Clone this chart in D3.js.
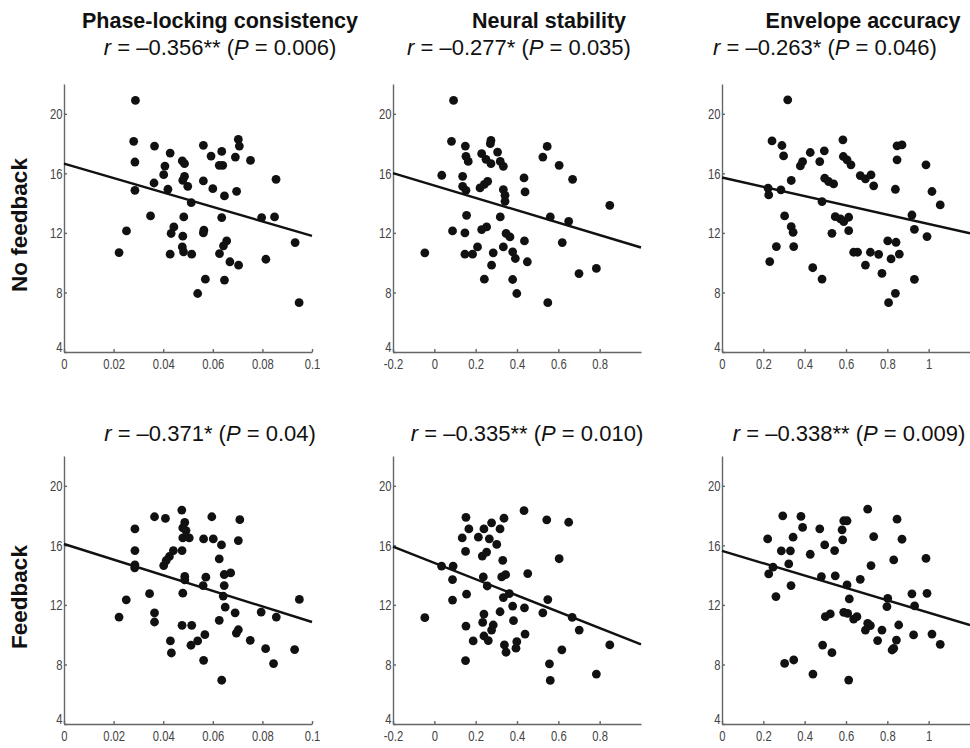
<!DOCTYPE html>
<html>
<head>
<meta charset="utf-8">
<script src="https://cdn.jsdelivr.net/npm/d3@7"></script>
<style>
  body { margin: 0; background: #fff; }
  svg { display: block; }
</style>
</head>
<body>
<svg id="chart" width="970" height="748"></svg>
<script>
// ---- data: [x, y] per subject ----
const phaseNoFb = [[0.0288,20.9],[0.0281,18.15],[0.0286,16.76],[0.0286,14.86],[0.0222,10.68],[0.0252,12.13],[0.0349,13.14],[0.0365,17.83],[0.0363,15.35],[0.0428,17.36],[0.0407,16.49],[0.0402,15.91],[0.0419,14.93],[0.0477,16.83],[0.0486,16.65],[0.0486,15.8],[0.0479,15.53],[0.0499,15.13],[0.0513,14.03],[0.0443,12.4],[0.0432,11.96],[0.0479,11.78],[0.0483,13.07],[0.0477,11.06],[0.0482,10.73],[0.0515,10.57],[0.0428,10.57],[0.0562,17.88],[0.0593,17.16],[0.0636,17.47],[0.0640,16.54],[0.0626,16.54],[0.0562,15.49],[0.0600,14.97],[0.0647,14.48],[0.0636,13.03],[0.0564,12.18],[0.0562,12.0],[0.0656,11.46],[0.0643,11.13],[0.0627,10.61],[0.0669,10.06],[0.0704,9.83],[0.0570,8.89],[0.0647,8.83],[0.0539,7.93],[0.0703,18.28],[0.0707,17.83],[0.0691,17.09],[0.0752,16.87],[0.0696,14.79],[0.0855,15.6],[0.0797,13.03],[0.0849,13.07],[0.0814,10.23],[0.0932,11.35],[0.0948,7.31]];

const neuralNoFb = [[0.093,20.9],[-0.046,10.66],[0.036,15.87],[0.083,18.15],[0.088,12.13],[0.150,17.83],[0.153,17.14],[0.164,16.8],[0.137,15.8],[0.137,15.13],[0.153,14.86],[0.156,13.18],[0.148,12.0],[0.148,10.57],[0.185,10.57],[0.209,11.06],[0.229,12.22],[0.253,12.4],[0.229,17.32],[0.250,16.94],[0.274,18.21],[0.271,17.99],[0.274,16.65],[0.306,17.43],[0.319,16.8],[0.334,16.47],[0.221,15.02],[0.242,15.26],[0.258,15.46],[0.334,14.9],[0.342,14.52],[0.342,14.12],[0.319,13.07],[0.334,11.06],[0.347,11.96],[0.366,11.73],[0.285,10.66],[0.277,9.83],[0.242,8.89],[0.379,10.73],[0.392,10.28],[0.379,8.87],[0.399,7.93],[0.434,15.69],[0.439,14.75],[0.436,11.46],[0.450,10.06],[0.525,17.09],[0.546,17.81],[0.561,13.07],[0.604,16.54],[0.669,15.6],[0.650,12.78],[0.619,11.35],[0.549,7.31],[0.700,9.27],[0.784,9.61],[0.849,13.85]];

const envNoFb = [[0.318,20.94],[0.242,18.18],[0.290,17.87],[0.298,17.17],[0.223,15.0],[0.226,14.55],[0.285,14.89],[0.335,15.52],[0.303,13.14],[0.335,12.42],[0.344,12.04],[0.263,11.08],[0.231,10.07],[0.347,11.08],[0.379,16.5],[0.390,16.79],[0.427,17.4],[0.473,16.79],[0.495,17.51],[0.484,14.1],[0.497,15.67],[0.516,15.45],[0.540,15.29],[0.532,11.97],[0.439,9.66],[0.484,8.9],[0.585,18.25],[0.587,17.13],[0.605,16.91],[0.624,16.57],[0.548,13.09],[0.573,12.94],[0.589,12.76],[0.613,13.05],[0.613,12.15],[0.637,10.7],[0.656,10.7],[0.669,15.85],[0.694,15.63],[0.721,15.9],[0.734,15.16],[0.694,9.84],[0.718,10.7],[0.758,10.56],[0.774,9.28],[0.802,11.46],[0.842,11.37],[0.818,10.25],[0.858,10.58],[0.839,7.94],[0.806,7.31],[0.847,17.85],[0.871,17.91],[0.847,16.91],[0.839,14.93],[0.919,13.2],[0.931,12.24],[0.931,8.88],[0.987,16.57],[1.016,14.78],[0.992,11.75],[1.056,13.88]];

const phaseFb = [[0.0222,11.18],[0.0251,12.34],[0.0286,17.1],[0.0286,15.65],[0.0286,14.69],[0.0285,14.49],[0.0345,12.75],[0.0365,17.92],[0.0409,17.81],[0.0365,11.47],[0.0365,10.85],[0.0429,9.58],[0.0433,8.77],[0.0402,14.64],[0.0412,14.98],[0.0425,15.25],[0.0441,15.65],[0.0476,15.65],[0.0475,18.37],[0.0479,17.17],[0.0487,17.54],[0.0492,16.99],[0.0479,16.5],[0.0505,16.5],[0.0487,13.91],[0.0487,13.68],[0.0479,12.79],[0.0476,10.63],[0.0515,10.63],[0.0512,9.29],[0.0539,9.58],[0.0568,10.0],[0.0563,8.28],[0.0563,16.43],[0.0596,17.92],[0.0602,16.43],[0.0572,13.86],[0.0561,13.3],[0.0635,16.03],[0.0626,15.09],[0.0646,13.3],[0.0646,14.04],[0.0672,14.15],[0.0642,12.59],[0.0650,11.85],[0.0626,10.96],[0.0636,6.94],[0.0709,17.72],[0.0703,16.32],[0.0690,11.47],[0.0703,10.33],[0.0695,10.11],[0.0751,9.62],[0.0795,11.52],[0.0813,9.06],[0.0856,11.18],[0.0845,8.06],[0.0930,9.0],[0.0949,12.37]];

const neuralFb = [[-0.046,11.14],[0.035,14.61],[0.091,14.61],[0.088,12.32],[0.088,13.7],[0.153,17.88],[0.167,17.1],[0.135,16.5],[0.151,15.59],[0.156,12.72],[0.153,10.58],[0.151,8.26],[0.188,9.58],[0.213,16.55],[0.240,17.1],[0.277,17.51],[0.318,17.1],[0.337,17.82],[0.266,16.44],[0.302,16.06],[0.253,15.55],[0.232,15.28],[0.237,13.88],[0.256,13.27],[0.331,14.99],[0.326,13.88],[0.345,14.03],[0.363,12.76],[0.334,12.49],[0.240,11.38],[0.234,10.82],[0.285,10.65],[0.277,10.31],[0.240,9.91],[0.261,9.6],[0.318,11.54],[0.379,11.92],[0.383,10.94],[0.339,9.31],[0.347,8.82],[0.399,9.53],[0.395,9.09],[0.439,10.04],[0.436,11.8],[0.434,18.33],[0.452,14.1],[0.525,11.47],[0.549,12.36],[0.544,17.71],[0.650,17.55],[0.604,15.1],[0.557,8.04],[0.561,6.93],[0.617,8.98],[0.667,11.16],[0.701,10.31],[0.784,7.35],[0.849,9.31]];

const envFb = [[0.221,16.43],[0.226,14.08],[0.247,14.53],[0.261,12.56],[0.294,17.98],[0.287,15.63],[0.331,15.63],[0.323,14.75],[0.334,13.3],[0.344,16.55],[0.303,8.07],[0.347,8.30],[0.382,17.94],[0.390,17.2],[0.427,15.4],[0.440,7.35],[0.473,17.11],[0.497,16.03],[0.481,13.9],[0.500,11.21],[0.524,11.39],[0.487,9.3],[0.532,8.79],[0.545,15.65],[0.548,13.95],[0.589,17.65],[0.605,17.65],[0.581,17.04],[0.584,16.37],[0.605,13.34],[0.616,12.4],[0.589,11.5],[0.608,11.43],[0.637,11.05],[0.653,11.21],[0.669,13.72],[0.613,6.95],[0.705,18.43],[0.734,16.59],[0.721,14.64],[0.705,10.76],[0.718,10.61],[0.694,10.31],[0.774,10.31],[0.753,9.6],[0.802,12.44],[0.798,11.88],[0.831,15.02],[0.847,17.76],[0.871,16.41],[0.855,10.65],[0.844,9.64],[0.831,9.08],[0.823,8.97],[0.919,12.74],[0.932,11.93],[0.927,9.98],[0.987,15.13],[0.992,12.78],[1.016,10.04],[1.056,9.35]];

// regression line end points [x, y]
const fitPhaseNoFb  = [[0, 16.65], [0.1, 11.8]];
const fitNeuralNoFb = [[-0.2, 16.02], [1.0, 11.02]];
const fitEnvNoFb    = [[0, 15.72], [1.2, 11.97]];
const fitPhaseFb    = [[0, 16.09], [0.1, 10.85]];
const fitNeuralFb   = [[-0.2, 15.92], [1.0, 9.35]];
const fitEnvFb      = [[0, 15.63], [1.2, 10.65]];

// column titles, row labels, stats
const colTitles = ['Phase-locking consistency', 'Neural stability', 'Envelope accuracy'];
const rowLabels = ['No feedback', 'Feedback'];
const rValues = [['–0.356**', '–0.277*', '–0.263*'], ['–0.371*', '–0.335**', '–0.338**']];
const pValues = [['0.006', '0.035', '0.046'], ['0.04', '0.010', '0.009']];

// tick labels
const yTickLabels = ['4', '8', '12', '16', '20'];
const xTicksPhase = ['0', '0.02', '0.04', '0.06', '0.08', '0.1'];
const xTicksNeural = ['-0.2', '0', '0.2', '0.4', '0.6', '0.8'];
const xTicksEnv = ['0', '0.2', '0.4', '0.6', '0.8', '1'];

class ScatterPanel {

  constructor(_config, _data, _fit) {
    this.config = {
      parent: _config.parent,
      left: _config.left,
      top: _config.top,
      width: 248,
      height: 268,
      xDomain: _config.xDomain,
      xTicks: _config.xTicks
    };
    this.data = _data;
    this.fit = _fit;
    this.initVis();
  }

  initVis() {
    let vis = this;

    vis.g = vis.config.parent.append('g')
      .attr('transform', `translate(${vis.config.left},${vis.config.top})`);

    vis.x = d3.scaleLinear().domain(vis.config.xDomain).range([0, vis.config.width]);
    vis.y = d3.scaleLinear().domain([4, 22]).range([vis.config.height, 0]);

    // MATLAB-ish axes, ticks pointing inward
    vis.xAxis = d3.axisBottom(vis.x)
      .tickValues(vis.config.xTicks.map(Number))
      .tickFormat((d, i) => vis.config.xTicks[i])
      .tickSizeInner(-3).tickSizeOuter(0).tickPadding(6);

    vis.yAxis = d3.axisLeft(vis.y)
      .tickValues(yTickLabels.map(Number))
      .tickFormat((d, i) => yTickLabels[i])
      .tickSizeInner(-3).tickSizeOuter(0).tickPadding(2);

    vis.g.append('g')
      .attr('class', 'axis')
      .attr('transform', `translate(0,${vis.config.height})`)
      .call(vis.xAxis);
    vis.yG = vis.g.append('g')
      .attr('class', 'axis')
      .call(vis.yAxis);

    vis.g.selectAll('.axis')
      .attr('font-family', '"Liberation Sans", Arial, sans-serif')
      .attr('font-size', 15);
    vis.g.selectAll('.axis path, .axis line')
      .attr('stroke', '#666').attr('stroke-width', 1.4);
    // narrow look of the original tick labels
    vis.g.selectAll('.axis text')
      .attr('fill', '#444')
      .attr('transform', 'scale(0.75,1)');
    // the bottom "4" sits just above the x axis
    vis.yG.selectAll('.tick text')
      .filter(d => d === 4)
      .attr('dy', '-0.05em');

    vis.g.selectAll('circle')
      .data(vis.data)
      .join('circle')
        .attr('cx', d => vis.x(d[0]))
        .attr('cy', d => vis.y(d[1]))
        .attr('r', 4.4)
        .attr('fill', '#111');

    vis.g.append('line')
      .attr('x1', vis.x(vis.fit[0][0])).attr('y1', vis.y(vis.fit[0][1]))
      .attr('x2', vis.x(vis.fit[1][0])).attr('y2', vis.y(vis.fit[1][1]))
      .attr('stroke', '#111')
      .attr('stroke-width', 2.4);
  }
}

const svg = d3.select('#chart');

const colLeft = [64, 393, 722];
const rowTop = [84, 456];
const xDomains = [[0, 0.1], [-0.2, 1.0], [0, 1.2]];
const xTickSets = [xTicksPhase, xTicksNeural, xTicksEnv];
const panelData = [[phaseNoFb, neuralNoFb, envNoFb], [phaseFb, neuralFb, envFb]];
const panelFits = [[fitPhaseNoFb, fitNeuralNoFb, fitEnvNoFb], [fitPhaseFb, fitNeuralFb, fitEnvFb]];

rowTop.forEach((top, r) => {
  colLeft.forEach((left, c) => {
    new ScatterPanel({
      parent: svg, left: left, top: top,
      xDomain: xDomains[c], xTicks: xTickSets[c]
    }, panelData[r][c], panelFits[r][c]);
  });
});

// column titles
const titleX = [220, 549, 863];
svg.selectAll('.col-title')
  .data(colTitles)
  .join('text')
    .attr('class', 'col-title')
    .attr('x', (d, i) => titleX[i])
    .attr('y', 28)
    .attr('text-anchor', 'middle')
    .attr('font-family', '"Liberation Sans", Arial, sans-serif')
    .attr('font-weight', 'bold')
    .attr('font-size', 21.5)
    .attr('fill', '#111')
    .text(d => d);

// row labels
const rowY = [225, 597];
svg.selectAll('.row-label')
  .data(rowLabels)
  .join('text')
    .attr('class', 'row-label')
    .attr('transform', (d, i) => `translate(27,${rowY[i]}) rotate(-90)`)
    .attr('text-anchor', 'middle')
    .attr('font-family', '"Liberation Sans", Arial, sans-serif')
    .attr('font-weight', 'bold')
    .attr('font-size', 22.5)
    .attr('fill', '#111')
    .text(d => d);

// correlation stats above each panel
const statX = [[220, 519, 825], [210, 527, 849]];
const statY = [55, 441];
rValues.forEach((row, r) => {
  row.forEach((rv, c) => {
    const t = svg.append('text')
      .attr('x', statX[r][c])
      .attr('y', statY[r])
      .attr('text-anchor', 'middle')
      .attr('font-family', '"Liberation Sans", Arial, sans-serif')
      .attr('font-size', 22)
      .attr('fill', '#111');
    t.append('tspan').attr('font-style', 'italic').text('r');
    t.append('tspan').text(` = ${rv} (`);
    t.append('tspan').attr('font-style', 'italic').text('P');
    t.append('tspan').text(` = ${pValues[r][c]})`);
  });
});
</script>
</body>
</html>
